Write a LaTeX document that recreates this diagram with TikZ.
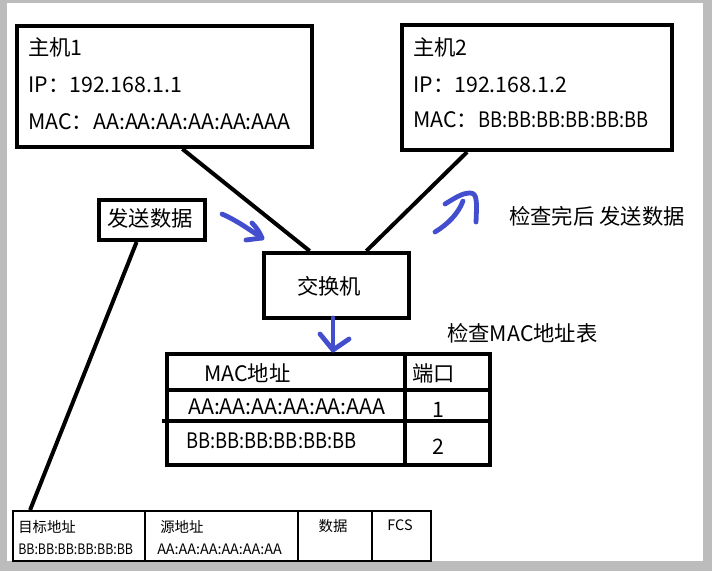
\documentclass[tikz,border=0pt]{standalone}
\usepackage{fontspec}
\usepackage{graphicx}
\setmainfont{Noto Sans CJK SC}
\usetikzlibrary{calc}
\definecolor{bordergray}{RGB}{188,188,188}
\definecolor{penblue}{RGB}{66,78,205}
\newcommand\narrowtext[1]{\scalebox{0.86}[1]{#1}}
\tikzset{
  box/.style={draw=black, line width=3pt, rectangle, inner sep=0pt, anchor=north west},
  link/.style={draw=black, line width=3pt},
  thinbox/.style={draw=black, line width=1.6pt, rectangle, inner sep=0pt, anchor=north west},
  txt/.style={inner sep=0pt, font=\fontsize{16}{19}\selectfont},
  ltxt/.style={txt, anchor=west},
  small/.style={inner sep=0pt, font=\fontsize{10.8}{13}\selectfont},
  lsmall/.style={small, anchor=west},
  pen/.style={draw=penblue, line width=3.6pt, line cap=round, line join=round},
}
\begin{document}
\begin{tikzpicture}[x=0.75pt, y=-0.75pt]
\useasboundingbox (0,0) rectangle (712,571);
\fill[bordergray] (0,0) rectangle (712,571);
\fill[white] (7,3) rectangle (703,561);

% hosts
\node[box, minimum width=221.25pt, minimum height=90.75pt] (host1) at (15,24) {};
\node[ltxt] (h1a) at (28,47) {主机1};
\node[ltxt] (h1b) at (28,85) {IP：192.168.1.1};
\node[ltxt] (h1c) at (28,122) {MAC：AA:AA:AA:AA:AA:AAA};

\node[box, minimum width=202.5pt, minimum height=93.75pt] (host2) at (400,23) {};
\node[ltxt] (h2a) at (413,47) {主机2};
\node[ltxt] (h2b) at (413,85) {IP：192.168.1.2};
\node[ltxt] (h2c) at (413,120) {MAC：\narrowtext{BB:BB:BB:BB:BB:BB}};

% switch
\node[box, minimum width=108.75pt, minimum height=48.75pt] (switch) at (262,251) {};
\node[txt] (swt) at (329,286) {交换机};

% links
\draw[link] ($(host1.south west)!0.56!(host1.south east)$) -- ($(switch.north west)!0.32!(switch.north east)$);
\draw[link] ($(host2.south west)!0.245!(host2.south east)$) -- ($(switch.north west)!0.70!(switch.north east)$);

% send data box
\node[box, minimum width=79.5pt, minimum height=30pt] (send) at (97,198) {};
\node[txt] (sendt) at (150,218) {发送数据};

% notes
\node[ltxt] (note1) at (509,216) {检查完后 发送数据};
\node[ltxt] (note2) at (447,333) {检查MAC地址表};

% MAC table
\node[box, minimum width=242.25pt, minimum height=83.25pt] (mactable) at (165,352) {};
\draw[line width=3pt] (405,352) -- (405,463);
\draw[line width=3pt] (165,390) -- (490,390);
\draw[line width=3pt] (162,421) -- (488,421);
\node[ltxt] (t11) at (204,373) {MAC地址};
\node[ltxt] (t12) at (412,373) {端口};
\node[ltxt] (t21) at (188,407) {AA:AA:AA:AA:AA:AAA};
\node[txt] (t22) at (438,410) {1};
\node[ltxt] (t31) at (186,441) {\narrowtext{BB:BB:BB:BB:BB:BB}};
\node[txt] (t32) at (438,447) {2};

% frame
\node[thinbox, minimum width=313.5pt, minimum height=37.5pt] (frame) at (12,510) {};
\draw[line width=1.6pt] (145,510) -- (145,560);
\draw[line width=1.6pt] (298,510) -- (298,560);
\draw[line width=1.6pt] (372,510) -- (372,560);
\node[lsmall] (f1a) at (18,527) {目标地址};
\node[lsmall] (f1b) at (18,549) {\narrowtext{BB:BB:BB:BB:BB:BB}};
\node[lsmall] (f2a) at (160,527) {源地址};
\node[lsmall] (f2b) at (157,549) {AA:AA:AA:AA:AA:AA};
\node[small] (f3) at (333,526) {数据};
\node[small] (f4) at (400,525) {FCS};

\draw[link] ($(send.south west)!0.36!(send.south east)$) -- ($(frame.north west)!0.043!(frame.north east)$);

% blue pen arrows
\draw[pen] (222,214) .. controls (236,220) and (250,230) .. (262,238);
\draw[pen] (252,223) .. controls (257,228) and (260,233) .. (262,238) -- (246,240);
\draw[pen] (333,318) -- (333,350);
\draw[pen] (320,334) -- (333,350) -- (349,339);
\draw[pen] (435,232) .. controls (448,224) and (458,214) .. (463,201);
\draw[pen] (445,204) .. controls (455,198) and (462,193) .. (470,193) .. controls (477,193) and (477,200) .. (476,222);
\end{tikzpicture}
\end{document}
